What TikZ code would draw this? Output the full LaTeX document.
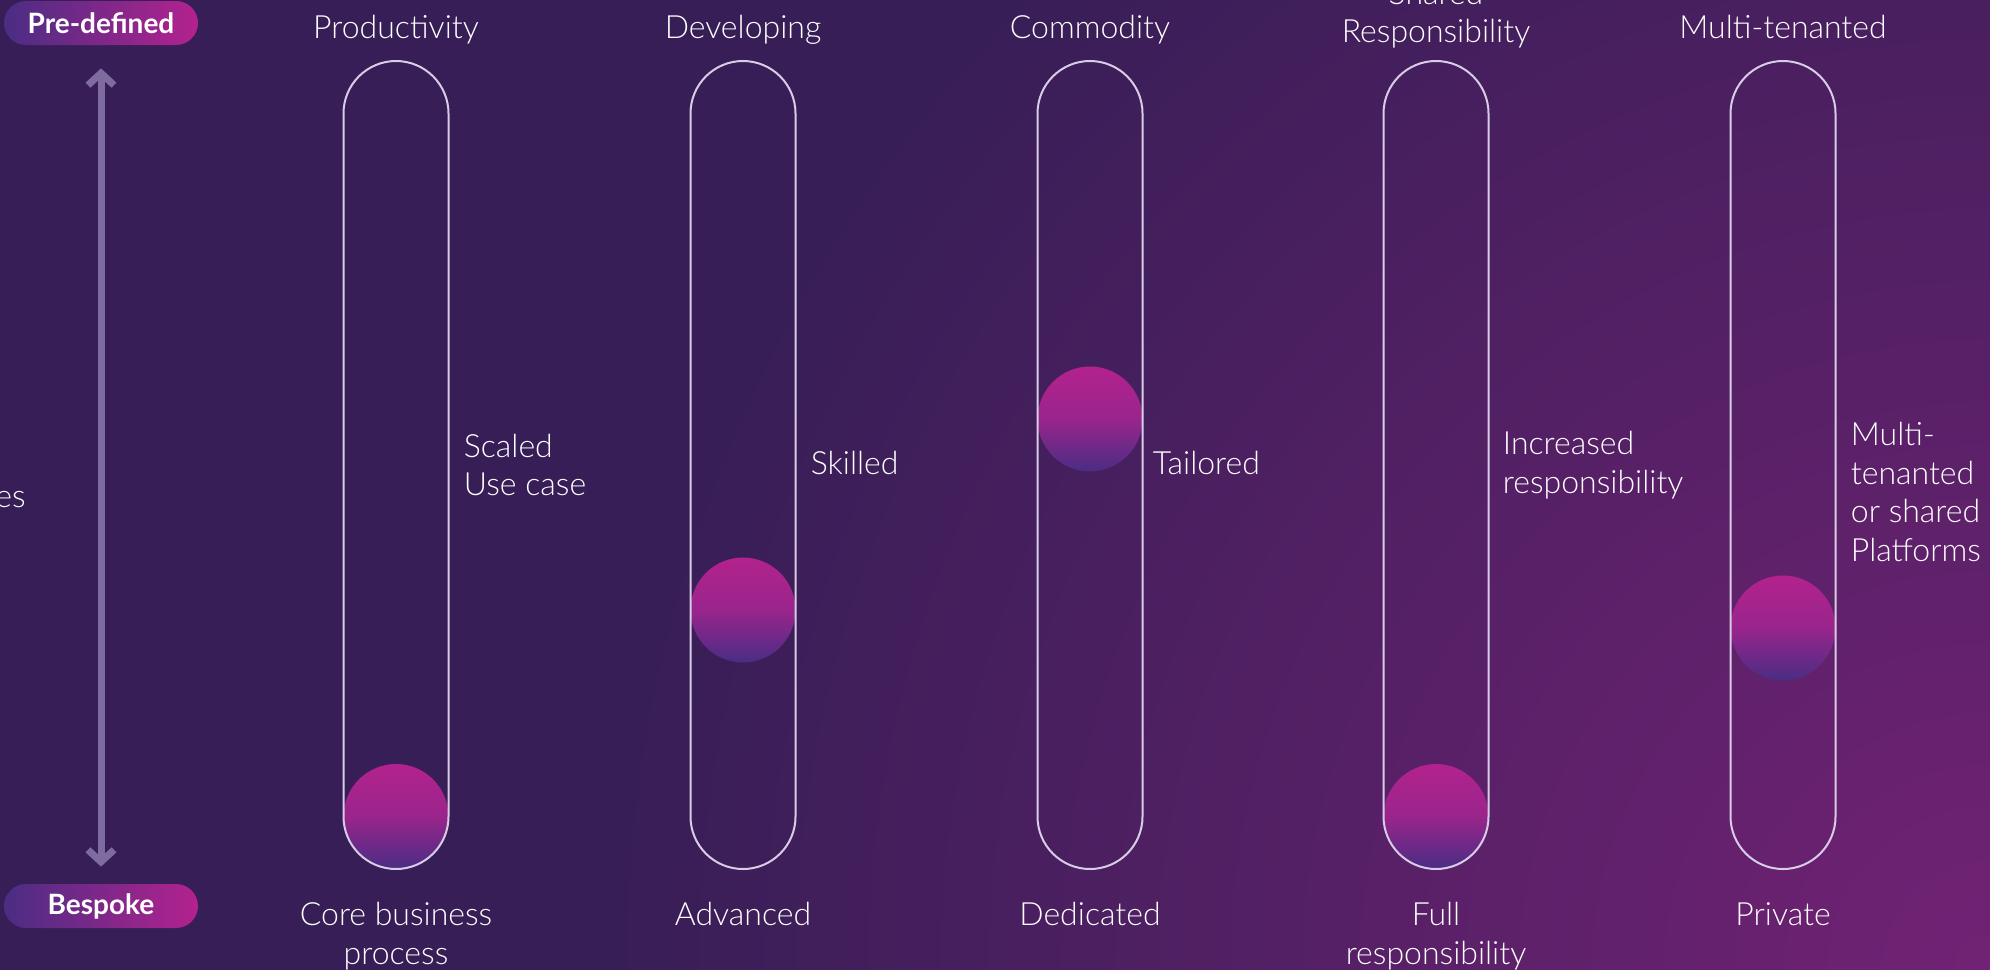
\documentclass[tikz,border=0pt]{standalone}
\usepackage{fontspec}
\setmainfont{Lato}[UprightFont = * Light, BoldFont = * Bold]
\usetikzlibrary{positioning, arrows.meta}

\definecolor{bgdark}{HTML}{371E56}
\definecolor{bglight}{HTML}{712274}
\definecolor{pink}{HTML}{B3228E}
\definecolor{indigo}{HTML}{4A2D84}
\definecolor{tubeline}{HTML}{D8CDE6}
\definecolor{axisline}{HTML}{7F6C9F}

\tikzset{
  tube/.style = {draw = tubeline, line width = 1pt, rounded corners = 26.25pt, minimum width = 52.5pt, minimum height = 404pt},
  ball/.style = {circle, minimum size = 52.5pt, top color = pink, bottom color = indigo, middle color = pink!75!indigo},
  pill/.style = {rounded corners = 11pt, minimum width = 97pt, minimum height = 22pt, left color = indigo, right color = pink, font = \fontsize{14}{16}\selectfont\bfseries},
  toptext/.style = {align = center},
  bottext/.style = {align = center},
  sidetext/.style = {align = left}
}

\begin{document}
\begin{tikzpicture}[x = 0.5pt, y = -0.5pt, font = \fontsize{16}{19.25}\selectfont, text = white, inner sep = 0pt]
  \useasboundingbox (0, 0) rectangle (1990, 969);
  % background, a little larger than the page
  \fill [bgdark] (-10, -10) rectangle (2000, 979);
  \begin{scope}
    \clip (-10, -10) rectangle (2000, 979);
    \shade [inner color = bglight, outer color = bgdark] (1990, 969) circle (1400);
  \end{scope}

  % scale on the left
  \node (predefined) [pill] at (101, 23) {Pre-defined};
  \node (bespoke) [pill] at (101, 906) {Bespoke};
  \node (es) [anchor = base east] at (26, 507) {es};
  \draw [{Straight Barb[length = 6pt, width = 13pt]}-{Straight Barb[length = 6pt, width = 13pt]}, axisline, line width = 3.5pt, line cap = round, shorten < = 11.5pt, shorten > = 8.5pt] (predefined) -- (bespoke);

  % balls first, so the tube outlines lie on top
  \node (ball1) [ball] at (396, 816.5) {};
  \node (ball2) [ball] at (743, 610) {};
  \node (ball3) [ball] at (1090, 419) {};
  \node (ball4) [ball] at (1436, 816.5) {};
  \node (ball5) [ball] at (1783, 628) {};

  \node (tube1) [tube] at (396, 465) {};
  \node (tube2) [tube] at (743, 465) {};
  \node (tube3) [tube] at (1090, 465) {};
  \node (tube4) [tube] at (1436, 465) {};
  \node (tube5) [tube] at (1783, 465) {};

  \node (productivity) [toptext, above = 7.5pt of tube1] {Productivity};
  \node (developing) [toptext, above = 7.5pt of tube2] {Developing};
  \node (commodity) [toptext, above = 7.5pt of tube3] {Commodity};
  \node (shared) [toptext, above = 5.5pt of tube4] {Shared\\Responsibility};
  \node (multitenanted) [toptext, above = 7.5pt of tube5] {Multi-tenanted\vphantom{y}};

  \node (scaled) [sidetext, right = 7pt of tube1] {Scaled\\Use case};
  \node (skilled) [sidetext, right = 7pt of tube2, yshift = 1pt] {Skilled};
  \node (tailored) [sidetext, right = 4.5pt of tube3, yshift = 1pt] {Tailored};
  \node (increased) [sidetext, right = 6.5pt of tube4] {Increased\\responsibility};
  \node (platforms) [sidetext, right = 7pt of tube5, yshift = -13.5pt] {Multi-\\tenanted\\or shared\\Platforms};

  \node (core) [bottext, below = 16pt of tube1] {Core business\\process};
  \node (advanced) [bottext, below = 16pt of tube2] {Advanced};
  \node (dedicated) [bottext, below = 16pt of tube3] {Dedicated};
  \node (full) [bottext, below = 16pt of tube4] {Full\\responsibility};
  \node (private) [bottext, below = 16pt of tube5] {Private};
\end{tikzpicture}
\end{document}
